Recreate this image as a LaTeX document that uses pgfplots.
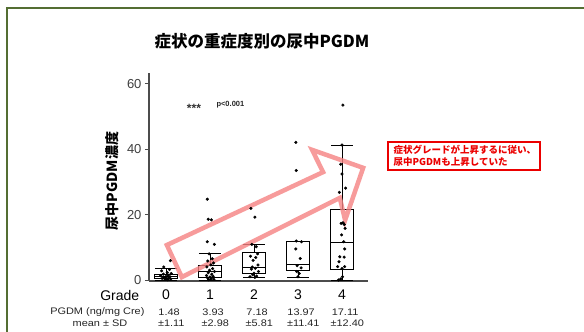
\documentclass[border=0pt]{standalone}
\usepackage{fontspec}
\setmainfont{Liberation Sans}
\newfontfamily\cjk{Noto Sans CJK JP}
\newfontfamily\widesans{Liberation Sans}[FakeStretch=1.15]
\usepackage{pgfplots}
\pgfplotsset{compat=1.18}
\usepgfplotslibrary{statistics}
\definecolor{framegreen}{RGB}{84,110,50}
\definecolor{arrowpink}{RGB}{246,130,130}
\definecolor{annred}{RGB}{235,0,0}
\begin{document}
\begin{tikzpicture}
\path[use as bounding box] (0,0) rectangle (584pt,332pt);
\fill[white] (0,0) rectangle (584pt,332pt);
\draw[framegreen, line width=2pt] (7pt,-5pt) -- (7pt,324pt) -- (590pt,324pt);
\node[font=\cjk\bfseries\fontsize{16.5}{18}\selectfont] at (262pt,291pt) {症状の重症度別の尿中PGDM};
\begin{axis}[at={(149pt,51pt)}, anchor=south west, width=219pt, height=208pt, scale only axis, clip=false,
 xmin=-0.386, xmax=4.59, ymin=-0.3, ymax=63.3,
 axis x line*=bottom, axis y line*=left,
 axis line style={-, black!70, line width=1.2pt},
 xtick=\empty, ytick={0,20,40,60},
 tick align=outside, major tick length=4pt, ytick style={black!70, line width=0.8pt},
 yticklabel style={font=\fontsize{13}{15}\selectfont, text=black!75},
 /pgf/number format/assume math mode=true,
 boxplot/draw direction=y,
 boxplot/box extend=0.52, boxplot/whisker extend=0.5]
\addplot[boxplot prepared={draw position=0, lower whisker=0, lower quartile=0.5, median=1.0, upper quartile=1.7, upper whisker=3.6}, draw=black, line width=0.7pt] coordinates {};
\addplot[boxplot prepared={draw position=1, lower whisker=0, lower quartile=0.8, median=2.6, upper quartile=4.6, upper whisker=8.2}, draw=black, line width=0.7pt] coordinates {};
\addplot[boxplot prepared={draw position=2, lower whisker=0.8, lower quartile=1.9, median=3.8, upper quartile=8.4, upper whisker=11.0}, draw=black, line width=0.7pt] coordinates {};
\addplot[boxplot prepared={draw position=3, lower whisker=0.8, lower quartile=2.9, median=4.7, upper quartile=11.9, upper whisker=11.9}, draw=black, line width=0.7pt] coordinates {};
\addplot[boxplot prepared={draw position=4, lower whisker=0, lower quartile=3.3, median=11.4, upper quartile=21.7, upper whisker=41.3}, draw=black, line width=0.7pt] coordinates {};
% points
\addplot[only marks, mark=*, mark size=1.35pt, black] coordinates {
(0.10,5.9) (-0.05,4.0) (0.08,3.2) (-0.10,2.8) (0.03,2.3) (0.12,2.0) (-0.06,1.8) (0.05,1.5) (-0.12,1.3) (0.00,1.1) (0.09,1.0) (-0.04,0.8) (0.06,0.6) (-0.09,0.5) (0.02,0.4) (0.11,0.3) (-0.02,0.2) (0.04,0.1)
(0.94,24.7) (0.96,18.6) (1.03,18.4) (0.94,11.7) (1.10,10.9)
(0.98,8.0) (1.05,6.5) (0.95,5.8) (1.08,5.2) (1.02,4.6) (0.93,4.0) (1.06,3.5) (0.99,3.0) (1.10,2.6) (0.96,2.2) (1.04,1.8) (0.92,1.4) (1.07,1.1) (1.00,0.9) (0.95,0.6) (1.03,0.4) (1.09,0.2) (0.97,0.1)
(1.93,21.9) (2.02,19.2) (1.95,10.9) (2.05,10.2) (2.08,8.0) (1.92,7.3) (2.04,6.9) (1.98,6.0) (2.09,4.6) (1.96,4.0) (2.03,3.6) (1.94,3.3) (2.10,2.6) (2.00,2.1) (1.97,1.6) (2.06,1.2) (1.91,1.0) (2.02,0.8)
(2.95,42.1) (2.96,33.5) (2.96,11.9) (3.08,11.7) (2.95,9.5) (3.05,6.6) (2.98,4.4) (3.07,3.7) (2.97,2.6) (3.03,2.0) (3.00,1.0)
(4.02,53.5) (4.00,41.3) (3.97,35.4) (4.00,32.4) (4.08,28.1) (3.94,26.8) (4.02,17.5) (3.98,17.3) (4.05,17.0) (4.07,15.8) (3.99,13.8) (4.04,11.7) (4.06,9.5) (3.95,7.1) (4.05,7.0) (3.93,5.6) (3.90,4.1) (4.06,4.1) (4.00,3.5) (4.01,1.0) (3.97,0.3) (3.92,0.0)
};
% arrow
\draw[arrowpink, opacity=0.8, line width=4.5pt, line join=miter]
 (axis cs:0.02,10.7) -- (axis cs:3.57,33.0) -- (axis cs:3.32,39.8) -- (axis cs:4.48,34.3) -- (axis cs:4.07,18.3) -- (axis cs:3.95,25.1) -- (axis cs:0.36,0.9) -- cycle;
% grade labels
\node[font=\fontsize{14}{16}\selectfont] at (axis cs:0,-4.6) {0};
\node[font=\fontsize{14}{16}\selectfont] at (axis cs:1,-4.6) {1};
\node[font=\fontsize{14}{16}\selectfont] at (axis cs:2,-4.6) {2};
\node[font=\fontsize{14}{16}\selectfont] at (axis cs:3,-4.6) {3};
\node[font=\fontsize{14}{16}\selectfont] at (axis cs:4,-4.6) {4};
\node[font=\fontsize{14}{16}\selectfont] at (axis cs:-1.05,-4.6) {Grade};
\node[font=\widesans\fontsize{9.5}{10}\selectfont, anchor=east, text=black!85] at (axis cs:-0.41,-9.7) {PGDM (ng/mg Cre)};
\node[font=\widesans\fontsize{9.5}{10}\selectfont, text=black!85] at (axis cs:-1.5,-13.2) {mean ± SD};
\node[font=\widesans\fontsize{9.5}{10}\selectfont, text=black!85] at (axis cs:0.07,-9.7) {1.48};
\node[font=\widesans\fontsize{9.5}{10}\selectfont, text=black!85] at (axis cs:1.07,-9.7) {3.93};
\node[font=\widesans\fontsize{9.5}{10}\selectfont, text=black!85] at (axis cs:2.07,-9.7) {7.18};
\node[font=\widesans\fontsize{9.5}{10}\selectfont, text=black!85] at (axis cs:3.07,-9.7) {13.97};
\node[font=\widesans\fontsize{9.5}{10}\selectfont, text=black!85] at (axis cs:4.07,-9.7) {17.11};
\node[font=\widesans\fontsize{9.5}{10}\selectfont, text=black!85] at (axis cs:0.12,-13.2) {±1.11};
\node[font=\widesans\fontsize{9.5}{10}\selectfont, text=black!85] at (axis cs:1.12,-13.2) {±2.98};
\node[font=\widesans\fontsize{9.5}{10}\selectfont, text=black!85] at (axis cs:2.12,-13.2) {±5.81};
\node[font=\widesans\fontsize{9.5}{10}\selectfont, text=black!85] at (axis cs:3.12,-13.2) {±11.41};
\node[font=\widesans\fontsize{9.5}{10}\selectfont, text=black!85] at (axis cs:4.12,-13.2) {±12.40};
\end{axis}
\node[rotate=90, font=\cjk\bfseries\fontsize{14}{16}\selectfont] at (112pt,151pt) {尿中PGDM濃度};
\node[font=\bfseries\fontsize{12}{14}\selectfont, text=black!80] at (194pt,224pt) {***};
\node[font=\bfseries\fontsize{7.5}{8}\selectfont, anchor=west, text=black!85] at (213pt,227pt) {p<0.001};
\draw[annred, line width=2.5pt, fill=white] (388pt,190pt) rectangle (540pt,162pt);
\node[font=\cjk\bfseries\fontsize{9.5}{11.5}\selectfont, text=annred, align=left, anchor=west] at (390pt,176pt) {症状グレードが上昇するに従い、\\尿中PGDMも上昇していた};
\end{tikzpicture}
\end{document}
